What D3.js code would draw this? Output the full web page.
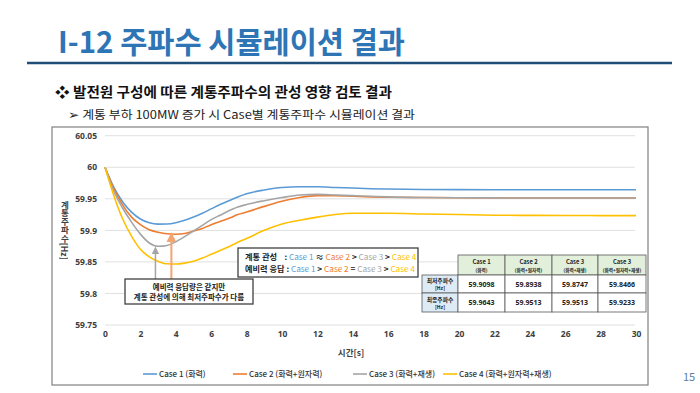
<!DOCTYPE html>
<html><head><meta charset="utf-8">
<script src="https://cdn.jsdelivr.net/npm/d3@7"></script>
<style>
body{margin:0;background:#fff;}
svg{display:block;font-family:"Noto Sans CJK KR","Noto Sans",sans-serif;}
</style></head>
<body><svg id="c" width="700" height="393"></svg>
<script>
const times = [0,0.5,1,1.5,2,2.5,3,3.5,4,4.5,5,5.5,6,6.5,7,7.5,8,9,10,11,12,13,14,15,16,18,20,22,24,26,28,30];
const case1 = [60,59.968,59.945,59.929,59.918,59.912,59.9098,59.910,59.912,59.916,59.921,59.927,59.934,59.941,59.947,59.953,59.958,59.964,59.968,59.969,59.969,59.968,59.967,59.966,59.9655,59.9648,59.9645,59.9644,59.9643,59.9643,59.9643,59.9643];
const case2 = [60,59.966,59.940,59.921,59.909,59.901,59.897,59.8945,59.8938,59.895,59.899,59.903,59.909,59.914,59.919,59.925,59.929,59.938,59.946,59.952,59.955,59.955,59.954,59.953,59.9525,59.952,59.9516,59.9514,59.9513,59.9513,59.9513,59.9513];
const case3 = [60,59.962,59.935,59.913,59.894,59.880,59.8747,59.876,59.882,59.890,59.899,59.908,59.917,59.924,59.931,59.937,59.941,59.947,59.952,59.956,59.957,59.956,59.955,59.954,59.953,59.952,59.9516,59.9514,59.9513,59.9513,59.9513,59.9513];
const case4 = [60,59.955,59.918,59.891,59.870,59.858,59.851,59.847,59.8466,59.848,59.851,59.856,59.862,59.868,59.874,59.881,59.887,59.900,59.910,59.916,59.921,59.925,59.927,59.927,59.927,59.926,59.925,59.924,59.9237,59.9235,59.9234,59.9233];
const seriesNames = ["Case 1 (화력)","Case 2 (화력+원자력)","Case 3 (화력+재생)","Case 4 (화력+원자력+재생)"];
const seriesColors = ["#5b9bd5","#ed7d31","#a5a5a5","#ffc000"];
const xTicks = [0,2,4,6,8,10,12,14,16,18,20,22,24,26,28,30];
const yTicks = [59.75,59.8,59.85,59.9,59.95,60,60.05];
const yTickLabels = ["59.75","59.8","59.85","59.9","59.95","60","60.05"];
const tableHeads = [["Case 1","(화력)"],["Case 2","(화력+원자력)"],["Case 3","(화력+재생)"],["Case 3","(화력+원자력+재생)"]];
const rowHeads = [["최저주파수","[Hz]"],["최종주파수","[Hz]"]];
const minFreq = ["59.9098","59.8938","59.8747","59.8466"];
const finalFreq = ["59.9643","59.9513","59.9513","59.9233"];

const svg = d3.select("#c");
const allSeries = [case1,case2,case3,case4];

// Header
svg.append("text").attr("x",58).attr("y",53).attr("font-size",30).attr("font-weight",700)
  .attr("fill","#2e75b6").attr("textLength",347).attr("lengthAdjust","spacingAndGlyphs")
  .text("I-12  주파수 시뮬레이션 결과");
svg.append("line").attr("x1",27).attr("x2",672).attr("y1",63).attr("y2",63)
  .attr("stroke","#1f4e79").attr("stroke-width",2.5);
svg.append("text").attr("x",55).attr("y",97).attr("font-size",14).attr("font-weight",700)
  .attr("fill","#111").attr("textLength",337).attr("lengthAdjust","spacingAndGlyphs")
  .text("❖ 발전원 구성에 따른 계통주파수의 관성 영향 검토 결과");
svg.append("text").attr("x",68).attr("y",119).attr("font-size",11.5)
  .attr("fill","#222").attr("textLength",347).attr("lengthAdjust","spacingAndGlyphs")
  .text("➢ 계통 부하 100MW 증가 시 Case별 계통주파수 시뮬레이션 결과");
svg.append("text").attr("x",683).attr("y",381).attr("font-size",11).attr("fill","#5a7da6").text("15");

// Frame
svg.append("rect").attr("x",52).attr("y",127).attr("width",596).attr("height",258)
  .attr("fill","#fff").attr("stroke","#808080").attr("stroke-width",1.2);

const x = d3.scaleLinear().domain([0,30]).range([105,636]);
const y = d3.scaleLinear().domain([59.75,60.05]).range([325,135.7]);

// gridlines
svg.append("g").selectAll("line").data(yTicks).join("line")
  .attr("x1",105).attr("x2",635).attr("y1",d=>y(d)).attr("y2",d=>y(d))
  .attr("stroke","#e0e0e0").attr("stroke-width",1);

// y axis labels
const yAxis = d3.axisLeft(y).tickValues(yTicks).tickFormat((d,i)=>yTickLabels[i]).tickSize(0).tickPadding(0);
const gy = svg.append("g").attr("transform","translate(97,0)").call(yAxis);
gy.select(".domain").remove();
gy.selectAll("text").attr("font-size",8.5).attr("font-weight",700).attr("fill","#404040")
  .attr("font-family","'Noto Sans',sans-serif");

// x axis labels
const xAxis = d3.axisBottom(x).tickValues(xTicks).tickSize(0).tickPadding(0);
const gx = svg.append("g").attr("transform","translate(0,331)").call(xAxis);
gx.select(".domain").remove();
gx.selectAll("text").attr("font-size",8.5).attr("font-weight",700).attr("fill","#404040")
  .attr("font-family","'Noto Sans',sans-serif");

svg.append("text").attr("x",351).attr("y",356).attr("text-anchor","middle").attr("font-size",8.5)
  .attr("font-weight",700).attr("fill","#404040").text("시간[s]");
svg.append("text").attr("x",65).attr("y",230).attr("text-anchor","middle").attr("font-size",8.5)
  .attr("font-weight",700).attr("fill","#404040").style("writing-mode","vertical-rl")
  .text("계통주파수[Hz]");

// lines
const line = d3.line().x((d,i)=>x(times[i])).y(d=>y(d)).curve(d3.curveMonotoneX);
svg.append("g").selectAll("path").data(allSeries).join("path")
  .attr("d",d=>line(d)).attr("fill","none")
  .attr("stroke",(d,i)=>seriesColors[i]).attr("stroke-width",1.6);

// arrows
const defs = svg.append("defs");
[["ag","#a5a5a5"],["ao","#f4a470"]].forEach(([id,c])=>{
  defs.append("marker").attr("id",id).attr("viewBox","0 0 10 10").attr("refX",5).attr("refY",5)
   .attr("markerWidth",5).attr("markerHeight",5).attr("orient","auto-start-reverse")
   .append("path").attr("d","M0,0 L10,5 L0,10 z").attr("fill",c);
});
svg.append("line").attr("x1",x(2.85)).attr("x2",x(2.85)).attr("y1",279).attr("y2",y(59.8747)+4)
  .attr("stroke","#a5a5a5").attr("stroke-width",1.5).attr("marker-end","url(#ag)");
svg.append("line").attr("x1",x(3.75)).attr("x2",x(3.75)).attr("y1",279).attr("y2",y(59.8938)+3)
  .attr("stroke","#f4a470").attr("stroke-width",2).attr("marker-end","url(#ao)");

// annotation box 1
svg.append("rect").attr("x",125).attr("y",279).attr("width",128).attr("height",25)
  .attr("fill","#fff").attr("stroke","#404040").attr("stroke-width",1.3);
svg.append("text").attr("x",189).attr("y",289.5).attr("text-anchor","middle").attr("font-size",7.5)
  .attr("font-weight",700).attr("fill","#222").text("예비력 응답량은 같지만");
svg.append("text").attr("x",189).attr("y",300).attr("text-anchor","middle").attr("font-size",7.5)
  .attr("font-weight",700).attr("fill","#222").text("계통 관성에 의해 최저주파수가 다름");

// annotation box 2
svg.append("rect").attr("x",238).attr("y",248).attr("width",180).attr("height",29)
  .attr("fill","#fff").attr("stroke","#404040").attr("stroke-width",1.3);
const rowsAnn = [
  {label:"계통 관성    : ", parts:[["Case 1",0],[" ≈ ",-1],["Case 2",1],[" > ",-1],["Case 3",2],[" > ",-1],["Case 4",3]], y:259.5},
  {label:"예비력 응답 : ", parts:[["Case 1",0],[" > ",-1],["Case 2",1],[" = ",-1],["Case 3",2],[" > ",-1],["Case 4",3]], y:272}
];
rowsAnn.forEach(r=>{
  const t = svg.append("text").attr("x",245).attr("y",r.y).attr("font-size",8.2).attr("font-weight",700)
    .attr("xml:space","preserve").style("white-space","pre");
  t.append("tspan").attr("fill","#222").text(r.label);
  r.parts.forEach(p=>t.append("tspan").attr("fill",p[1]<0?"#222":seriesColors[p[1]])
    .attr("font-weight",p[1]<0?700:400).text(p[0]));
});

// table
const colX = [422,458,505,552,598,646];
const rowY = [255,275,293,312];
const tg = svg.append("g");
for(let r=0;r<3;r++){
  for(let c=0;c<5;c++){
    if(r===0&&c===0) continue;
    let fill = "#fff";
    if(r===0) fill="#e2efda";
    else if(c===0) fill="#ddebf7";
    tg.append("rect").attr("x",colX[c]).attr("y",rowY[r]).attr("width",colX[c+1]-colX[c])
      .attr("height",rowY[r+1]-rowY[r]).attr("fill",fill).attr("stroke","#595959").attr("stroke-width",0.8);
  }
}
tableHeads.forEach((h,i)=>{
  const cx=(colX[i+1]+colX[i+2])/2;
  tg.append("text").attr("x",cx).attr("y",264).attr("text-anchor","middle").attr("font-size",5.8)
    .attr("font-weight",700).attr("fill","#222").text(h[0]);
  tg.append("text").attr("x",cx).attr("y",271.5).attr("text-anchor","middle").attr("font-size",4.6)
    .attr("font-weight",700).attr("fill","#222").text(h[1]);
});
rowHeads.forEach((h,i)=>{
  const cy=(rowY[i+1]+rowY[i+2])/2;
  tg.append("text").attr("x",440).attr("y",cy-1).attr("text-anchor","middle").attr("font-size",5.8)
    .attr("font-weight",700).attr("fill","#222").text(h[0]);
  tg.append("text").attr("x",440).attr("y",cy+6).attr("text-anchor","middle").attr("font-size",5)
    .attr("font-weight",700).attr("fill","#222").text(h[1]);
});
[minFreq,finalFreq].forEach((row,ri)=>{
  const cy=(rowY[ri+1]+rowY[ri+2])/2;
  row.forEach((v,i)=>{
    tg.append("text").attr("x",(colX[i+1]+colX[i+2])/2).attr("y",cy+2.5).attr("text-anchor","middle")
      .attr("font-size",7).attr("font-weight",700).attr("fill","#222")
      .attr("font-family","'Noto Sans',sans-serif").text(v);
  });
});

// legend
const legX = [143,233,353,443];
const lg = svg.append("g");
seriesNames.forEach((n,i)=>{
  lg.append("line").attr("x1",legX[i]).attr("x2",legX[i]+14).attr("y1",374).attr("y2",374)
    .attr("stroke",seriesColors[i]).attr("stroke-width",1.6);
  lg.append("text").attr("x",legX[i]+16).attr("y",377).attr("font-size",8).attr("font-weight",500)
    .attr("fill","#333").text(n);
});
</script></body></html>
